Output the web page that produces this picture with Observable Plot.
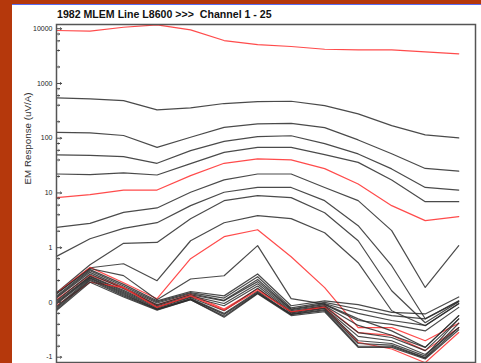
<!DOCTYPE html>
<html><head><meta charset="utf-8">
<script src="https://cdn.jsdelivr.net/npm/d3@7"></script>
<script src="https://cdn.jsdelivr.net/npm/@observablehq/plot@0.6"></script>
<style>
html,body{margin:0;padding:0;}
body{width:481px;height:363px;overflow:hidden;background:#b5380c;position:relative;font-family:"Liberation Sans",Arial,sans-serif;}
#panel{position:absolute;left:12px;top:4px;width:469px;height:359px;background:#fff;border-top:1px solid #5a6cf0;}
#title{position:absolute;left:57px;top:8px;font-weight:bold;font-size:10.6px;color:#111;white-space:pre;}
#chart{position:absolute;left:12px;top:5px;}
</style></head><body>
<div id="panel"></div>
<div id="title">1982 MLEM Line L8600 &gt;&gt;&gt;  Channel 1 - 25</div>
<div id="chart"></div>
<script>
const stations = [0,1,2,3,4,5,6,7,8,9,10,11,12];
const redChannels = [1,6,11,16,21];
const tickValues = [-1,0,1,10,100,1000,10000];
const tickLabels = ["-1","0","1","10","100","1000","10000"];
const yLabel = "EM Response (uV/A)";

const ch1 = [9270,9000,10640,11750,9550,6080,5140,4730,4220,4110,4110,3780,3480];
const ch2 = [546,523,487,329,358,430,467,473,394,278,170,115,101];
const ch3 = [128,125,112,68,104,158,182,187,156,93,52,28,25];
const ch4 = [49.5,48.6,46.1,34.8,59.3,87.7,107,111,79.6,51.6,27.5,12.6,11.3];
const ch5 = [22.2,21.6,23.2,21.3,34.4,55.2,68.2,68.2,50.1,36.2,17.3,6.93,6.93];
const ch6 = [8.2,9.3,11.3,11.3,20.7,34.8,41.9,40.1,27.8,14.6,5.86,3.12,3.69];
const ch7 = [2.35,2.78,4.42,5.32,10.3,17.3,22.2,22.2,12.6,7.23,2.05,0.274,1.09];
const ch8 = [0.841,1.46,2.25,2.86,5.86,10.3,12.6,12.6,7.23,2.52,0.671,-0.298,0.031];
const ch9 = [0.177,0.689,1.2,1.25,3.39,7.23,8.93,8.2,4.36,1.34,0.214,-0.371,0.013];
const ch10 = [0.159,0.634,0.707,0.397,1.34,2.86,3.85,3.39,1.88,0.726,-0.152,-0.426,-0.024];
const ch11 = [0.175,0.64,0.36,0.068,0.799,1.59,2.13,0.835,0.27,-0.46,-0.46,-0.70,-0.38];
const ch12 = [0.16,0.62,0.49,0.05,0.428,0.488,1.09,0.07,-0.03,-0.30,-0.52,-0.82,-0.24];
const ch13 = [0.12,0.60,0.33,0.03,0.20,0.12,0.52,-0.06,0.03,-0.04,-0.18,-0.21,0.10];
const ch14 = [0.10,0.58,0.30,0.01,0.18,0.08,0.47,-0.10,0.00,-0.12,-0.24,-0.30,0.02];
const ch15 = [0.08,0.55,0.27,-0.01,0.16,0.04,0.42,-0.12,-0.02,-0.20,-0.33,-0.42,-0.02];
const ch16 = [0.05,0.50,0.27,-0.05,0.15,-0.12,0.245,-0.18,-0.06,-0.55,-0.60,-0.88,-0.46];
const ch17 = [0.03,0.52,0.25,-0.04,0.14,0.03,0.38,-0.13,-0.04,-0.33,-0.40,-0.52,-0.09];
const ch18 = [0.01,0.48,0.22,-0.06,0.12,-0.02,0.34,-0.15,-0.06,-0.42,-0.60,-0.82,-0.24];
const ch19 = [-0.01,0.47,0.20,-0.08,0.10,-0.06,0.30,-0.17,-0.08,-0.55,-0.64,-0.88,-0.30];
const ch20 = [-0.03,0.45,0.18,-0.10,0.09,-0.15,0.26,-0.19,-0.10,-0.62,-0.70,-0.95,-0.46];
const ch21 = [-0.06,0.37,0.27,-0.09,0.12,-0.14,0.22,-0.17,-0.09,-0.73,-0.85,-1.26,-0.55];
const ch22 = [-0.08,0.44,0.16,-0.12,0.07,-0.20,0.20,-0.21,-0.11,-0.70,-0.75,-0.98,-0.30];
const ch23 = [-0.10,0.42,0.14,-0.12,0.06,-0.22,0.18,-0.22,-0.13,-0.75,-0.78,-1.02,-0.38];
const ch24 = [-0.13,0.40,0.12,-0.13,0.05,-0.25,0.17,-0.22,-0.15,-0.80,-0.80,-1.04,-0.46];
const ch25 = [-0.15,0.37,0.10,-0.14,0.05,-0.27,0.16,-0.24,-0.17,-0.82,-0.82,-1.08,-0.50];

const channels = [ch1,ch2,ch3,ch4,ch5,ch6,ch7,ch8,ch9,ch10,ch11,ch12,ch13,ch14,ch15,ch16,ch17,ch18,ch19,ch20,ch21,ch22,ch23,ch24,ch25];

// symmetric log-linear transform: linear within ±1, one decade per unit beyond
const T = v => Math.abs(v) <= 1 ? v : Math.sign(v) * (1 + Math.log10(Math.abs(v)));

const rows = [];
channels.forEach((vals, i) => {
  const ch = i + 1;
  vals.forEach((v, j) => rows.push({channel: ch, station: stations[j], value: v,
    color: redChannels.includes(ch) ? "#ff2b2b" : "#2a2a2a"}));
});

const majorT = tickValues.map(T);
const labelMap = new Map(majorT.map((t, i) => [t, tickLabels[i]]));
const minorVals = [];
[-0.8,-0.6,-0.4,-0.2,0.2,0.4,0.6,0.8].forEach(v => minorVals.push(v));
[1,10,100,1000].forEach(d => [2,4,6,8].forEach(k => minorVals.push(d * k)));
const minorT = minorVals.map(T);

const chart = Plot.plot({
  width: 469, height: 358,
  marginLeft: 44, marginRight: 6, marginTop: 19, marginBottom: 1,
  style: {fontFamily: "'Liberation Sans', Arial, sans-serif", background: "transparent"},
  x: {domain: [0, 12.5], axis: null},
  y: {type: "linear", domain: [-1.097, 5.077], axis: null},
  color: {type: "identity"},
  marks: [
    Plot.line(rows, {x: "station", y: d => T(d.value), z: "channel", stroke: "color", strokeWidth: 1.2, strokeOpacity: 0.85}),
    Plot.vector(majorT, {y: d => d, frameAnchor: "left", length: 5, rotate: 90, anchor: "start", stroke: "#444", strokeWidth: 1}),
    Plot.vector(minorT, {y: d => d, frameAnchor: "left", length: 3, rotate: 90, anchor: "start", stroke: "#444", strokeWidth: 1}),
    Plot.axisY(majorT, {tickSize: 0, tickPadding: 4, fontSize: 7, fill: "#222", tickFormat: d => labelMap.get(d), label: null}),
    Plot.text([yLabel], {frameAnchor: "left", dx: -29, dy: -9, rotate: -90, fontSize: 9.8, fill: "#333"}),
    Plot.frame({stroke: "#555", strokeWidth: 1.5})
  ]
});
document.getElementById("chart").appendChild(chart);
</script>
</body></html>
